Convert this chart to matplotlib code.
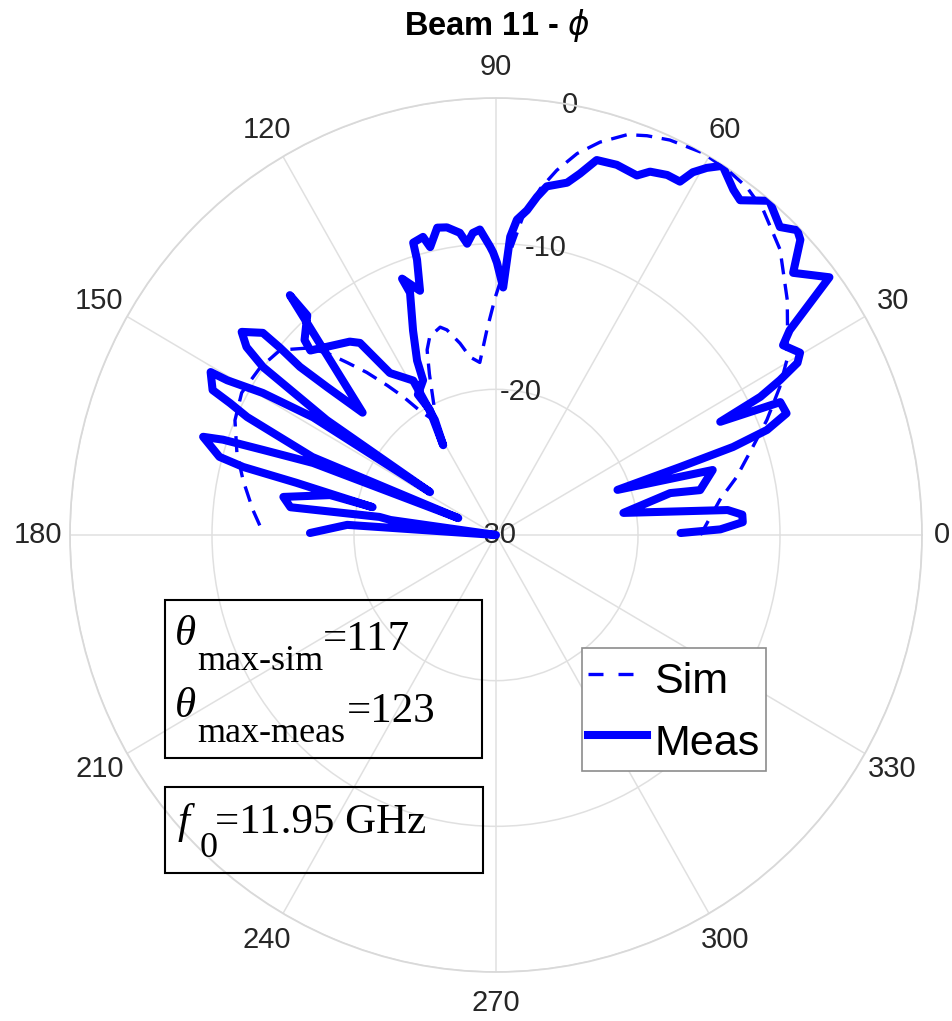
import numpy as np
import matplotlib
matplotlib.use("Agg")
import matplotlib.pyplot as plt
from matplotlib.patches import Rectangle
from matplotlib.lines import Line2D

# ---- data -------------------------------------------------------------
# Simulated pattern, phi cut (deg, dB normalised)
sim_theta = [0.0, 2.0, 8.7, 13.2, 18.3, 22.5, 26.9, 30.4, 34.8, 38.2, 44.4,
             49.9, 53.5, 57.0, 61.0, 65.7, 68.8, 71.4, 74.8, 77.7, 80.3,
             82.5, 85.0, 87.5, 90.2, 92.6, 95.5, 98.5, 100.9, 103.8, 105.4,
             108.9, 110.9, 113.0, 116.0, 119.0, 122.0, 124.5, 126.7, 129.2,
             131.5, 133.6, 136.1, 140.1, 145.3, 151.4, 156.8, 162.8, 168.1,
             174.3, 179.5]
sim_db = [-15.6, -15.3, -14.05, -12.6, -11.0, -9.35, -7.6, -6.25, -5.0, -3.9,
          -2.0, -0.8, -0.3, -0.1, 0.0, -0.25, -0.6, -1.0, -2.05, -3.2, -4.6,
          -6.0, -8.0, -11.0, -13.7, -15.9, -18.1, -17.65, -16.6, -15.5, -15.2,
          -15.6, -16.4, -18.0, -20.0, -21.0, -20.0, -18.5, -17.2, -15.6,
          -14.2, -12.75, -11.5, -10.2, -9.8, -9.6, -10.0, -10.9, -11.8,
          -12.8, -13.6]

# Measured pattern, phi cut (deg, dB normalised), in acquisition order
meas_theta = [0.6, 1.4, 2.9, 4.6, 6.0, 9.6, 13.2, 12.1, 16.3, 19.9, 19.8,
              19.9, 20.7, 22.2, 24.5, 26.2, 27.0, 28.0, 29.1, 30.3, 32.8,
              34.2, 37.0, 40.7, 43.4, 44.6, 46.6, 50.0, 53.2, 54.8, 57.8,
              59.5, 60.9, 61.9, 64.0, 66.5, 68.1, 71.5, 74.6, 76.6, 78.3,
              81.5, 82.9, 84.4, 86.1, 87.2, 88.3, 89.8, 90.6, 91.2, 93.1,
              94.5, 95.8, 97.0, 99.3, 101.1, 103.2, 104.1, 106.2, 106.4,
              107.7, 110.6, 110.0, 112.6, 114.9, 115.8, 119.7, 118.5, 121.1,
              118.6, 118.8, 123.9, 126.0, 127.8, 135.9, 135.2, 131.4, 131.4,
              138.2, 139.5, 140.1, 139.8, 139.8, 142.1, 143.7, 144.9, 146.5,
              147.6, 147.9, 149.3, 150.7, 150.9, 153.5, 154.2, 155.2, 157.5,
              156.4, 159.0, 160.4, 161.2, 161.9, 164.6, 165.3, 165.7, 167.6,
              166.8, 170.1, 172.5, 171.4, 172.1, 173.0, 176.2, 179.4]
meas_db = [-17.0, -14.2, -12.6, -12.6, -13.6, -20.9, -17.4, -15.3, -14.1,
           -20.9, -16.2, -12.25, -9.6, -7.9, -8.0, -12.4, -9.1, -7.35, -5.7,
           -5.2, -5.95, -5.0, -0.6, -2.4, -0.5, -0.2, -0.9, -0.05, -1.3,
           -1.0, -0.05, -0.75, -1.5, -2.5, -2.5, -2.8, -3.4, -3.2, -3.3,
           -4.5, -5.3, -5.8, -6.6, -7.6, -8.3, -9.5, -13.0, -11.3, -10.6,
           -10.2, -9.0, -9.2, -9.9, -9.1, -8.6, -8.5, -9.7, -8.9, -9.1,
           -10.3, -12.4, -11.2, -12.3, -14.8, -16.8, -18.2, -18.9, -20.2,
           -22.8, -21.0, -17.9, -16.6, -13.7, -13.2, -11.8, -11.0, -9.9,
           -8.05, -17.4, -14.4, -12.0, -10.1, -8.5, -7.3, -8.2, -9.95,
           -15.7, -24.5, -14.8, -10.9, -8.3, -7.0, -7.7, -9.2, -10.7, -16.0,
           -27.1, -16.2, -12.6, -9.7, -8.3, -9.8, -11.6, -15.5, -21.1, -18.0,
           -14.8, -15.4, -21.7, -22.5, -30.0, -19.5, -16.9]

theta_ticks = list(range(0, 360, 30))
r_ticks = [-30, -20, -10, 0]
series_labels = ["Sim", "Meas"]
title_main = "Beam 11 - "
theta_max_sim = 117
theta_max_meas = 123
f0_ghz = 11.95

# ---- figure -----------------------------------------------------------
plt.rcParams["font.family"] = ["Liberation Sans", "DejaVu Sans"]
W, H = 953, 1021
fig = plt.figure(figsize=(W / 100, H / 100), dpi=100)


def fx(x):
    return x / W


def fy(y):
    return 1 - y / H


# polar axes box in pixels (left, top, right, bottom)
AX_L, AX_T, AX_R, AX_B = 70, 98, 922, 972
CX, CY = (AX_L + AX_R) / 2, (AX_T + AX_B) / 2

ax = fig.add_axes([fx(AX_L), fy(AX_B), fx(AX_R) - fx(AX_L),
                   fy(AX_T) - fy(AX_B)], projection="polar")
ax.set_aspect("auto")
ax.set_rlim(r_ticks[0], r_ticks[-1])
ax.set_rticks(r_ticks)
ax.set_yticklabels([])
ax.set_xticks(np.deg2rad(theta_ticks))
ax.set_xticklabels([])
ax.grid(True, color="#e0e0e0", lw=1.1)
ax.spines["polar"].set_color("#d9d9d9")
ax.spines["polar"].set_linewidth(1.3)

# angle labels, centred on an ellipse just outside the rim
tick_color = "#262626"
for t in theta_ticks:
    a = np.deg2rad(t)
    ra = 446 if t == 0 else 458
    rb = 468
    fig.text(fx(CX + ra * np.cos(a)), fy(CY - rb * np.sin(a)), str(t),
             ha="center", va="center", fontsize=21, color=tick_color)

# radial labels along the 80 deg spoke
ang = np.deg2rad(80)
for r in r_ticks:
    ax.text(ang, r, str(r), ha="center", va="center", fontsize=21,
            color=tick_color, zorder=1.6)

dash = (0, (4.8, 2.9))
ax.plot(np.deg2rad(sim_theta), sim_db, color="#0000ff", lw=2.4,
        linestyle=dash, zorder=3)
ax.plot(np.deg2rad(meas_theta), np.clip(meas_db, -30, 0), color="#0000ff",
        lw=5.8, solid_joinstyle="round", solid_capstyle="round", zorder=4)

# title
fig.text(fx(497), fy(35), title_main + r"$\phi$", ha="center",
         va="baseline", fontsize=23.5, fontweight="bold")

# legend
handles = [Line2D([], [], color="#0000ff", lw=2.4,
                  linestyle=(0, (4.5, 4.5))),
           Line2D([], [], color="#0000ff", lw=5.8)]
leg = fig.legend(handles, series_labels, loc="upper left",
                 bbox_to_anchor=(fx(582), fy(648)), fontsize=31,
                 frameon=True, fancybox=False, framealpha=1,
                 edgecolor="#8c8c8c", borderpad=0.15, handlelength=1.35,
                 handleheight=1.38, handletextpad=0.18, labelspacing=0.28,
                 borderaxespad=0)
leg.get_frame().set_linewidth(1.2)

# annotation boxes
for (x0, y0, x1, y1) in [(165, 600, 482, 758), (165, 787, 483, 873)]:
    fig.add_artist(Rectangle((fx(x0), fy(y1)), fx(x1) - fx(x0),
                             fy(y0) - fy(y1), transform=fig.transFigure,
                             fill=False, edgecolor="black", lw=1.5))

serif = "Liberation Serif"
big, small = 31, 26


def put(x, y, s, size, italic=False):
    fig.text(fx(x), fy(y), s, fontsize=size, family=serif,
             style="italic" if italic else "normal", va="baseline",
             ha="left")


put(175, 645, "\u03b8", big, italic=True)
put(197, 670, "max-sim", small)
put(323, 650, f"={theta_max_sim}", big)
put(175, 717, "\u03b8", big, italic=True)
put(197, 742, "max-meas", small)
put(347, 722, f"={theta_max_meas}", big)
put(178, 833, "f", big, italic=True)
put(200, 857, "0", small)
put(215, 833, f"={f0_ghz:.2f} GHz", big)

fig.savefig("out.png", dpi=100)
